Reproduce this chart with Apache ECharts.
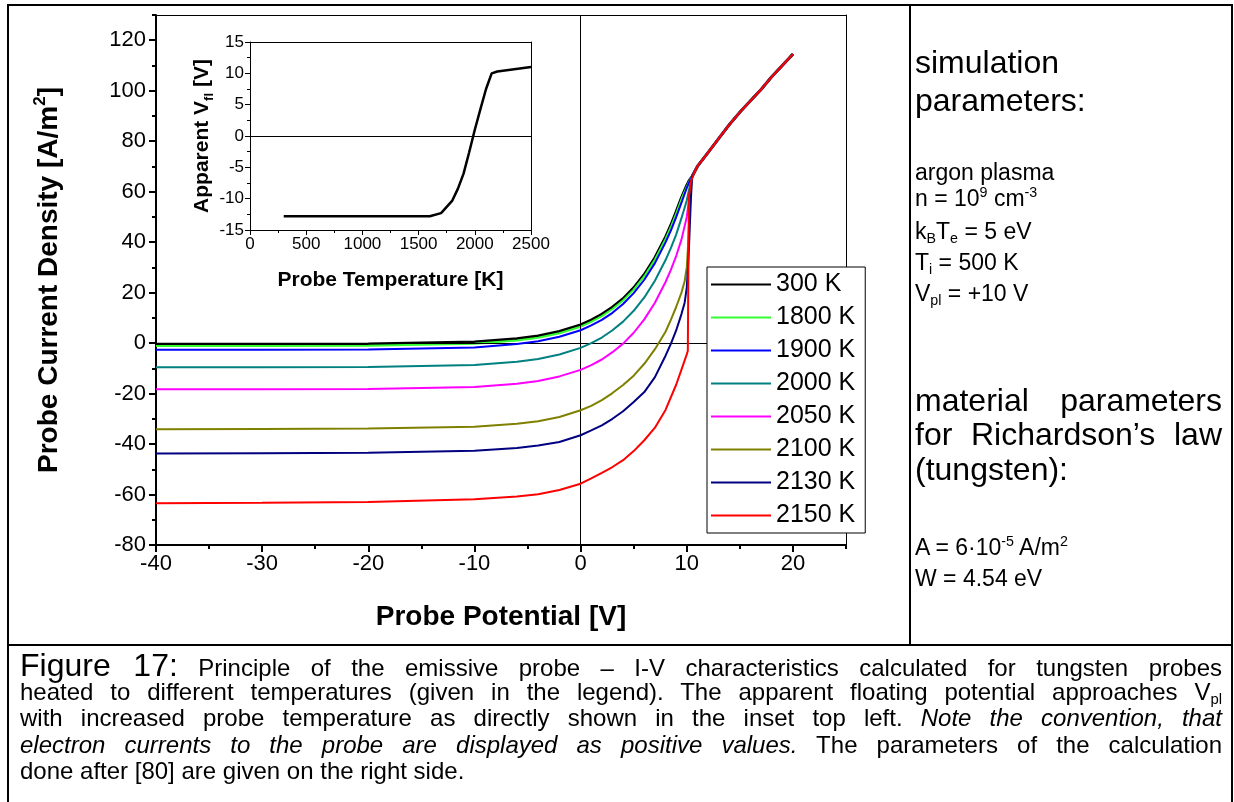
<!DOCTYPE html>
<html><head><meta charset="utf-8">
<script src="https://cdn.jsdelivr.net/npm/echarts@6/dist/echarts.min.js"></script>
<style>
body{margin:0;background:#fff;}
#wrap{position:relative;width:1234px;height:802px;overflow:hidden;background:#fff;font-family:'Liberation Sans',Arial,sans-serif;color:#000;}
#chart{position:absolute;left:0;top:0;width:1234px;height:802px;}
.ln{position:absolute;background:#000;}
.t{position:absolute;white-space:nowrap;left:915px;}
.big{font-size:32px;line-height:38px;}
.sm{font-size:23px;line-height:30px;}
sup,sub{font-size:0.62em;line-height:0;}
sup{vertical-align:0.6em;} sub{vertical-align:-0.3em;}
.cap{position:absolute;left:20px;width:1202px;font-size:24px;line-height:26px;white-space:nowrap;text-align:justify;text-align-last:justify;}
.jr{width:307px;text-align:justify;text-align-last:justify;}
</style></head>
<body>
<div id="wrap">
<div id="chart"></div>
<div class="ln" style="left:7px;top:4px;width:2px;height:798px"></div>
<div class="ln" style="left:7px;top:4px;width:1226px;height:2px"></div>
<div class="ln" style="left:1231px;top:4px;width:2px;height:798px"></div>
<div class="ln" style="left:909px;top:4px;width:2px;height:641px"></div>
<div class="ln" style="left:7px;top:644px;width:1226px;height:2px"></div>

<div class="t big" style="top:43px">simulation</div>
<div class="t big" style="top:81px">parameters:</div>
<div class="t sm" style="top:157px">argon plasma</div>
<div class="t sm" style="top:183px">n = 10<sup>9</sup> cm<sup>-3</sup></div>
<div class="t sm" style="top:216px">k<sub>B</sub>T<sub>e</sub> = 5 eV</div>
<div class="t sm" style="top:247px">T<sub>i</sub> = 500 K</div>
<div class="t sm" style="top:278px">V<sub>pl</sub> = +10 V</div>
<div class="t big jr" style="top:381px">material parameters</div>
<div class="t big jr" style="top:415px">for Richardson’s law</div>
<div class="t big" style="top:450px">(tungsten):</div>
<div class="t sm" style="top:532px">A = 6·10<sup>-5</sup> A/m<sup>2</sup></div>
<div class="t sm" style="top:563px">W = 4.54 eV</div>

<div class="cap" style="top:652px"><span style="font-size:32px">Figure 17:</span> Principle of the emissive probe – I-V characteristics calculated for tungsten probes</div>
<div class="cap" style="top:679px">heated to different temperatures (given in the legend). The apparent floating potential approaches V<sub>pl</sub></div>
<div class="cap" style="top:705px">with increased probe temperature as directly shown in the inset top left. <i>Note the convention, that</i></div>
<div class="cap" style="top:732px"><i>electron currents to the probe are displayed as positive values.</i> The parameters of the calculation</div>
<div class="cap" style="top:758px;text-align:left;text-align-last:left">done after [80] are given on the right side.</div>
</div>
<script>
// ---- main chart data: probe potential [V] vs current density [A/m^2] ----
const seriesNames = ['300 K','1800 K','1900 K','2000 K','2050 K','2100 K','2130 K','2150 K'];
const seriesColors = ['#000000','#33FF33','#0000FF','#008080','#FF00FF','#808000','#000080','#FF0000'];
const T300 = [[-40,-0.5],[-30,-0.5],[-20,-0.4],[-10,0.4],[-6,1.7],[-4,2.8],[-2,4.6],[0,7.2],[1,9.1],[2,11.4],[3,14.2],[4,17.6],[5,21.9],[6,27.2],[7,33.8],[8,42],[8.5,46.7],[9,52],[9.5,57.6],[10,62.5],[10.25,64.5]];
const T1800 = [[-40,-1.2],[-30,-1.2],[-20,-1.1],[-10,-0.3],[-6,1.0],[-4,2.1],[-2,3.9],[0,6.5],[1,8.4],[2,10.7],[3,13.5],[4,16.9],[5,21.2],[6,26.5],[7,33.1],[8,41.3],[8.5,46],[9,51.3],[9.5,57],[10,62],[10.25,64.3]];
const T1900 = [[-40,-2.6],[-30,-2.6],[-20,-2.5],[-10,-1.7],[-6,-0.4],[-4,0.7],[-2,2.5],[0,5.1],[1,7.0],[2,9.2],[3,12.0],[4,15.5],[5,19.8],[6,25.1],[7,31.7],[8,39.9],[8.5,44.6],[9,49.9],[9.5,55.6],[10,61.5],[10.25,64]];
const T2000 = [[-40,-9.6],[-30,-9.6],[-20,-9.5],[-10,-8.7],[-6,-7.4],[-4,-6.3],[-2,-4.5],[0,-1.9],[1,0],[2,2.2],[3,5.1],[4,8.5],[5,12.8],[6,18.1],[7,24.7],[8,32.9],[8.5,37.6],[9,43],[9.5,49.5],[10,56.5],[10.25,61.5]];
const T2050 = [[-40,-18.3],[-30,-18.3],[-20,-18.2],[-10,-17.4],[-6,-16.1],[-4,-15.0],[-2,-13.2],[0,-10.6],[1,-8.7],[2,-6.5],[3,-3.6],[4,-0.2],[5,4.1],[6,9.4],[7,16.0],[8,24.2],[8.5,29],[9,34.5],[9.5,41],[10,50],[10.25,58]];
const T2100 = [[-40,-34.1],[-30,-34.0],[-20,-33.8],[-10,-33.1],[-6,-32.0],[-4,-31.0],[-2,-29.3],[0,-26.6],[1,-24.9],[2,-22.6],[3,-19.8],[4,-16.6],[5,-12.9],[6,-8.2],[7,-2.4],[8,4.5],[8.5,9.2],[9,14.3],[9.5,20],[9.8,24.5],[10,30],[10.1,37],[10.2,46],[10.3,55]];
const T2130 = [[-40,-43.7],[-30,-43.6],[-20,-43.4],[-10,-42.7],[-6,-41.6],[-4,-40.6],[-2,-39.2],[0,-36.5],[1,-34.6],[2,-32.6],[3,-30.0],[4,-27.0],[5,-23.3],[6,-19.4],[7,-13.5],[8,-5],[8.5,-0.3],[9,5],[9.5,11.5],[9.8,16],[10,22],[10.1,29],[10.2,37],[10.3,48],[10.4,58]];
const T2150 = [[-40,-63.5],[-30,-63.3],[-20,-63.0],[-10,-61.9],[-6,-60.8],[-4,-59.9],[-2,-58.2],[0,-55.7],[1,-53.6],[2,-51.4],[3,-49.1],[4,-46.4],[5,-42.8],[6,-38.5],[7,-33.5],[8,-26.5],[9,-16.5],[9.5,-10.5],[10,-4.5],[10.1,-3],[10.15,30],[10.2,58],[10.4,64],[10.7,67.5]];
// common electron-saturation branch above the plasma potential
const upperBranch = [[10.5,66],[11,70],[12,75.5],[13,81],[14,86.5],[15,91.5],[16,96],[17,100.5],[18,105.5],[19,110],[20,114.5]];
const xMajorTicks = [-40,-30,-20,-10,0,10,20];
const xMinorTicks = [-35,-25,-15,-5,5,15,25];
const yMajorTicks = [-80,-60,-40,-20,0,20,40,60,80,100,120];
const yMinorTicks = [-70,-50,-30,-10,10,30,50,70,90,110,130];
// ---- inset data: probe temperature [K] vs apparent floating potential [V] ----
const insetTemp = [300,1600,1700,1800,1850,1900,1950,2000,2050,2100,2150,2200,2500];
const insetVfl = [-12.8,-12.8,-12.3,-10.3,-8.4,-6.0,-2.6,1.0,4.3,7.5,10.0,10.3,11.0];

const FONT = "'Liberation Sans', Arial, sans-serif";
const curves = [T300,T1800,T1900,T2000,T2050,T2100,T2130,T2150];

function joinUpper(arr){
  const lastV = arr[arr.length-1][0];
  return arr.concat(upperBranch.filter(p => p[0] > lastV));
}

const mainSeries = curves.map((c,i) => ({
  name: seriesNames[i], type:'line', xAxisIndex:0, yAxisIndex:0,
  data: joinUpper(c), symbol:'none', smooth:false,
  lineStyle:{color:seriesColors[i], width: i===0 ? 3 : 2},
  itemStyle:{color:seriesColors[i]},
  z: 3 + i,
  markLine: i===0 ? {silent:true, symbol:'none', label:{show:false},
     lineStyle:{color:'#000', width:1, type:'solid'},
     data:[{xAxis:0},{yAxis:0}]} : undefined
}));

const axText = {color:'#000', fontFamily:FONT};
const hidden = {show:false};
const plain = v => String(v);

const option = {
  animation:false,
  backgroundColor:'#fff',
  grid:[
    {left:156, top:15, width:690, height:530},
    {left:250, top:42, width:281, height:188}
  ],
  legend:{
    data: seriesNames, orient:'vertical', left:707, top:267, z:50,
    itemWidth:60, itemHeight:14, itemGap:8,
    padding:[5,10,5,3], borderColor:'#000', borderWidth:1, backgroundColor:'#fff',
    selectedMode:false,
    itemStyle:{opacity:0},
    textStyle:{fontSize:25, color:'#000', fontFamily:FONT}
  },
  xAxis:[
    {gridIndex:0, type:'value', min:-40, max:25, interval:10, position:'bottom',
     axisLine:{show:true, onZero:false, lineStyle:{color:'#000', width:2}},
     axisTick:{show:true, inside:false, length:7, lineStyle:{width:2}, customValues:xMajorTicks},
     axisLabel:{fontSize:22, margin:8, customValues:xMajorTicks, formatter:plain, ...axText},
     splitLine:hidden,
     name:'Probe Potential [V]', nameLocation:'middle', nameGap:58,
     nameTextStyle:{fontSize:28, fontWeight:'bold', ...axText}},
    {gridIndex:0, type:'value', min:-40, max:25, interval:10, position:'bottom',
     axisLine:{show:false, onZero:false},
     axisTick:{show:true, inside:false, length:4, lineStyle:{width:2, color:'#000'}, customValues:xMinorTicks},
     axisLabel:hidden, splitLine:hidden},
    {gridIndex:0, type:'value', min:-40, max:25, position:'top',
     axisLine:{show:true, onZero:false, lineStyle:{color:'#000', width:1}},
     axisTick:hidden, axisLabel:hidden, splitLine:hidden},
    {gridIndex:1, type:'value', min:0, max:2500, interval:500, position:'bottom',
     axisLine:{show:true, onZero:false, lineStyle:{color:'#000', width:1}},
     axisTick:{show:true, inside:false, length:5, lineStyle:{width:1}},
     minorTick:{show:true, splitNumber:2, length:3, lineStyle:{color:'#000', width:1}},
     axisLabel:{fontSize:17, margin:6, formatter:plain, ...axText},
     splitLine:hidden, minorSplitLine:hidden,
     name:'Probe Temperature [K]', nameLocation:'middle', nameGap:40,
     nameTextStyle:{fontSize:21, fontWeight:'bold', ...axText}},
    {gridIndex:1, type:'value', min:0, max:2500, position:'top',
     axisLine:{show:true, onZero:false, lineStyle:{color:'#000', width:1}},
     axisTick:hidden, axisLabel:hidden, splitLine:hidden}
  ],
  yAxis:[
    {gridIndex:0, type:'value', min:-80, max:130, interval:20, position:'left',
     axisLine:{show:true, onZero:false, lineStyle:{color:'#000', width:2}},
     axisTick:{show:true, inside:false, length:7, lineStyle:{width:2}, customValues:yMajorTicks},
     axisLabel:{fontSize:22, margin:10, customValues:yMajorTicks, formatter:plain, ...axText},
     splitLine:hidden,
     name:'{a|Probe Current Density [A/m}{s|2}{a|]}', nameLocation:'middle', nameGap:90, nameRotate:90,
     nameTextStyle:{...axText, rich:{
       a:{fontSize:28, fontWeight:'bold', fontFamily:FONT, color:'#000', lineHeight:34},
       s:{fontSize:17, fontWeight:'bold', fontFamily:FONT, color:'#000', verticalAlign:'top', lineHeight:18}}}},
    {gridIndex:0, type:'value', min:-80, max:130, interval:20, position:'left',
     axisLine:{show:false, onZero:false},
     axisTick:{show:true, inside:false, length:4, lineStyle:{width:2, color:'#000'}, customValues:yMinorTicks},
     axisLabel:hidden, splitLine:hidden},
    {gridIndex:0, type:'value', min:-80, max:130, position:'right',
     axisLine:{show:true, onZero:false, lineStyle:{color:'#000', width:1}},
     axisTick:hidden, axisLabel:hidden, splitLine:hidden},
    {gridIndex:1, type:'value', min:-15, max:15, interval:5, position:'left',
     axisLine:{show:true, onZero:false, lineStyle:{color:'#000', width:1}},
     axisTick:{show:true, inside:false, length:5, lineStyle:{width:1}},
     minorTick:{show:true, splitNumber:2, length:3, lineStyle:{color:'#000', width:1}},
     axisLabel:{fontSize:17, margin:6, formatter:plain, ...axText},
     splitLine:hidden, minorSplitLine:hidden,
     name:'{a|Apparent V}{b|fl}{a| [V]}', nameLocation:'middle', nameGap:34, nameRotate:90,
     nameTextStyle:{...axText, rich:{
       a:{fontSize:21, fontWeight:'bold', fontFamily:FONT, color:'#000', lineHeight:26},
       b:{fontSize:13, fontWeight:'bold', fontFamily:FONT, color:'#000', verticalAlign:'bottom', lineHeight:14}}}},
    {gridIndex:1, type:'value', min:-15, max:15, position:'right',
     axisLine:{show:true, onZero:false, lineStyle:{color:'#000', width:1}},
     axisTick:hidden, axisLabel:hidden, splitLine:hidden}
  ],
  series: mainSeries.concat([{
    name:'inset', type:'line', xAxisIndex:3, yAxisIndex:3,
    data: insetTemp.map((t,i)=>[t, insetVfl[i]]),
    symbol:'none', lineStyle:{color:'#000', width:2.5}, z:20,
    markLine:{silent:true, symbol:'none', label:{show:false},
      lineStyle:{color:'#000', width:1, type:'solid'}, data:[{yAxis:0}]}
  }])
};
const chart = echarts.init(document.getElementById('chart'), null, {renderer:'canvas'});
chart.setOption(option);
</script>
</body></html>
